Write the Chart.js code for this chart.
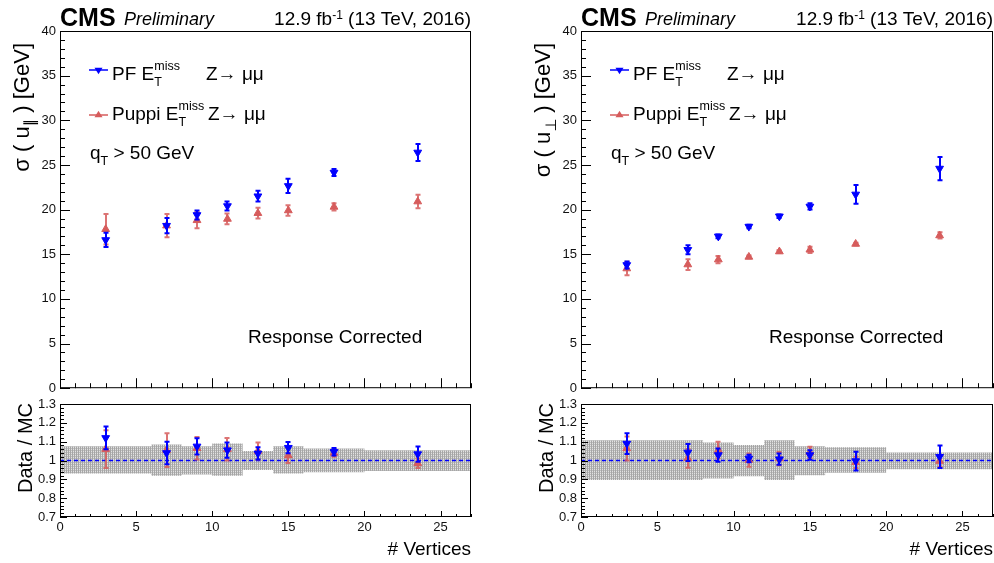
<!DOCTYPE html>
<html>
<head>
<meta charset="utf-8">
<script src="https://cdn.jsdelivr.net/npm/chart.js@4.4.1/dist/chart.umd.min.js"></script>
<style>
  body { margin: 0; background: #fff; width: 994px; height: 563px; overflow: hidden; position: relative; }
  canvas { position: absolute; }
</style>
</head>
<body>
<canvas id="mainL" width="497" height="400" style="left:0px;top:0px"></canvas>
<canvas id="ratioL" width="497" height="171" style="left:0px;top:392px"></canvas>
<canvas id="mainR" width="473" height="400" style="left:521px;top:0px"></canvas>
<canvas id="ratioR" width="473" height="171" style="left:521px;top:392px"></canvas>
<script>
// number of vertices (bin centres) and MC bins for the uncertainty band
const nVtx = [3, 7, 9, 11, 13, 15, 18, 23.5];
const binEdges = [0, 6, 8, 10, 12, 14, 16, 20, 27];

// sigma(u_par)
const parPF = [16.6, 18.2, 19.4, 20.4, 21.5, 22.65, 24.15, 26.4];
const parPFErr = [0.8, 0.85, 0.5, 0.5, 0.6, 0.8, 0.4, 0.95];
const parPuppi = [17.8, 18.2, 18.8, 18.95, 19.6, 19.9, 20.3, 20.9];
const parPuppiErr = [1.7, 1.3, 0.9, 0.6, 0.6, 0.6, 0.4, 0.75];
const parRatioPF = [1.12, 1.04, 1.075, 1.055, 1.038, 1.068, 1.046, 1.034];
const parRatioPFErr = [0.06, 0.06, 0.043, 0.04, 0.033, 0.03, 0.02, 0.04];
const parRatioPuppi = [1.06, 1.055, 1.065, 1.06, 1.05, 1.027, 1.04, 0.985];
const parRatioPuppiErr = [0.1, 0.09, 0.06, 0.06, 0.045, 0.04, 0.02, 0.025];
const parBandUp = [1.076, 1.085, 1.076, 1.09, 1.05, 1.076, 1.064, 1.055];
const parBandLo = [0.931, 0.919, 0.926, 0.919, 0.949, 0.931, 0.937, 0.944];

// sigma(u_perp)
const perpPF = [13.8, 15.5, 17.0, 18.1, 19.25, 20.35, 21.7, 24.6];
const perpPFErr = [0.4, 0.5, 0.2, 0.2, 0.2, 0.35, 1.05, 1.3];
const perpPuppi = [13.4, 13.85, 14.4, 14.7, 15.3, 15.5, 16.15, 17.1];
const perpPuppiErr = [0.75, 0.6, 0.4, 0.15, 0.15, 0.35, 0.15, 0.35];
const perpRatioPF = [1.09, 1.043, 1.029, 1.011, 1.007, 1.029, 0.997, 1.02];
const perpRatioPFErr = [0.055, 0.045, 0.035, 0.02, 0.03, 0.025, 0.05, 0.06];
const perpRatioPuppi = [1.064, 1.011, 1.055, 1.002, 1.01, 1.043, 0.99, 0.997];
const perpRatioPuppiErr = [0.064, 0.05, 0.045, 0.035, 0.035, 0.03, 0.03, 0.03];
const perpBandUp = [1.108, 1.108, 1.096, 1.082, 1.108, 1.076, 1.07, 1.043];
const perpBandLo = [0.896, 0.896, 0.905, 0.917, 0.896, 0.922, 0.935, 0.954];

// tick labels
const mainYTicks = [0, 5, 10, 15, 20, 25, 30, 35, 40];
const ratioYTicks = [0.7, 0.8, 0.9, 1, 1.1, 1.2, 1.3];
const xTicks = [0, 5, 10, 15, 20, 25];

const FONT = '"Liberation Sans", Arial, "DejaVu Sans", sans-serif';
const BLUE = '#0000ff';
const RED = 'rgb(214,92,92)';
const RED_ERR = 'rgba(214,92,92,0.85)';

function pts(xs, ys) { return xs.map((x, i) => ({ x: x, y: ys[i] })); }
function bandPts(edges, vals) {
  const out = [];
  vals.forEach((v, i) => { out.push({ x: edges[i], y: v }, { x: edges[i + 1], y: v }); });
  return out;
}

function hatch(canvas) {
  const t = document.createElement('canvas');
  t.width = 2; t.height = 2;
  const c = t.getContext('2d');
  c.fillStyle = '#e2e2e2'; c.fillRect(0, 0, 2, 2);
  c.fillStyle = '#a6a6a6'; c.fillRect(0, 0, 1, 2);
  c.fillStyle = '#bdbdbd'; c.fillRect(1, 0, 1, 1);
  return canvas.getContext('2d').createPattern(t, 'repeat');
}

// text with sub/superscripts; returns width
function rich(ctx, x, y, parts, draw = true) {
  let cx = x, held = 0;
  parts.forEach(p => {
    ctx.font = (p.st || '') + ' ' + p.s + 'px ' + FONT;
    const w = ctx.measureText(p.t).width;
    if (draw) ctx.fillText(p.t, cx, y + (p.dy || 0));
    if (p.hold) { held = Math.max(held, w); }
    else { cx += Math.max(w, held); held = 0; }
  });
  return cx - x;
}

const errorBars = {
  id: 'errorBars',
  beforeDatasetDraw(chart, args) {
    const ds = chart.data.datasets[args.index];
    if (!ds.err) return;
    const ctx = chart.ctx, xs = chart.scales.x, ys = chart.scales.y;
    ctx.save();
    ctx.strokeStyle = ds.errColor;
    ctx.lineWidth = 2;
    ctx.beginPath();
    ds.data.forEach((p, i) => {
      const px = Math.round(xs.getPixelForValue(p.x));
      const y1 = ys.getPixelForValue(p.y + ds.err[i]);
      const y2 = ys.getPixelForValue(p.y - ds.err[i]);
      ctx.moveTo(px, y1); ctx.lineTo(px, y2);
      ctx.moveTo(px - 2.5, y1); ctx.lineTo(px + 2.5, y1);
      ctx.moveTo(px - 2.5, y2); ctx.lineTo(px + 2.5, y2);
    });
    ctx.stroke();
    ctx.restore();
  }
};

function framePlugin(cfg) {
  return {
    id: 'frame',
    afterDatasetsDraw(chart) {
      const ctx = chart.ctx, a = chart.chartArea;
      ctx.save();
      ctx.strokeStyle = '#000';
      ctx.lineWidth = 1;
      ctx.strokeRect(a.left + 0.5, a.top + 0.5, a.right - a.left - 1, a.bottom - a.top - 1);
      ctx.beginPath();
      ['x', 'y'].forEach(k => {
        const sc = chart.scales[k], c = cfg[k];
        const n = Math.round((sc.max - sc.min) / c.minor);
        for (let j = 0; j <= n; j++) {
          const v = sc.min + j * c.minor;
          const r = v / c.major;
          const len = Math.abs(r - Math.round(r)) < 1e-6 ? c.len[0] : c.len[1];
          const p = Math.round(sc.getPixelForValue(v)) + 0.5;
          if (k === 'x') { ctx.moveTo(p, a.bottom); ctx.lineTo(p, a.bottom - len); }
          else { ctx.moveTo(a.left, p); ctx.lineTo(a.left + len, p); }
        }
      });
      ctx.stroke();
      ctx.restore();
    }
  };
}

function legendMark(ctx, x0, x1, y, color, down) {
  ctx.save();
  ctx.strokeStyle = color; ctx.fillStyle = color; ctx.lineWidth = 1.5;
  ctx.beginPath(); ctx.moveTo(x0, y); ctx.lineTo(x1, y); ctx.stroke();
  const xc = (x0 + x1) / 2, h = 3.8, s = down ? 1 : -1;
  ctx.beginPath();
  ctx.moveTo(xc - 4, y - s * h * 0.6);
  ctx.lineTo(xc + 4, y - s * h * 0.6);
  ctx.lineTo(xc, y + s * h * 1.1);
  ctx.closePath(); ctx.fill();
  ctx.restore();
}

function mainTexts(symbol) {
  return {
    id: 'mainText',
    afterDraw(chart) {
      const ctx = chart.ctx, a = chart.chartArea, L = a.left;
      const sub = (t) => ({ t: t, s: 12.5, dy: 6, hold: true });
      ctx.save();
      ctx.fillStyle = '#000';
      ctx.textAlign = 'left';
      ctx.textBaseline = 'alphabetic';
      rich(ctx, L, 26, [{ t: 'CMS', s: 25, st: 'bold' }]);
      rich(ctx, L + 64, 25, [{ t: 'Preliminary', s: 18, st: 'italic' }]);
      const lumi = [{ t: '12.9 fb', s: 19 }, { t: '-1', s: 12, dy: -6 }, { t: ' (13 TeV, 2016)', s: 19 }];
      rich(ctx, a.right - rich(ctx, 0, 0, lumi, false), 25, lumi);

      legendMark(ctx, L + 29, L + 48, 70, BLUE, true);
      rich(ctx, L + 52, 80, [{ t: 'PF E', s: 19 }, sub('T'), { t: 'miss', s: 12.5, dy: -10 }]);
      rich(ctx, L + 146, 80, [{ t: 'Z\u2192 \u03bc\u03bc', s: 19 }]);
      legendMark(ctx, L + 29, L + 48, 115, RED, false);
      rich(ctx, L + 52, 120, [{ t: 'Puppi E', s: 19 }, sub('T'), { t: 'miss', s: 12.5, dy: -10 }]);
      rich(ctx, L + 148, 120, [{ t: 'Z\u2192 \u03bc\u03bc', s: 19 }]);
      rich(ctx, L + 30, 159, [{ t: 'q', s: 19 }, { t: 'T', s: 12.5, dy: 6 }, { t: ' > 50 GeV', s: 19 }]);
      rich(ctx, L + 188, 343, [{ t: 'Response Corrected', s: 19 }]);

      const title = [{ t: '\u03c3 ( u', s: 22 }, { t: symbol, s: 15, dy: 6 }, { t: ' ) [GeV]', s: 22 }];
      const w = rich(ctx, 0, 0, title, false);
      ctx.translate(L - 31, 43 + w);
      ctx.rotate(-Math.PI / 2);
      rich(ctx, 0, 0, title);
      ctx.restore();
    }
  };
}

const ratioTexts = {
  id: 'ratioText',
  afterDraw(chart) {
    const ctx = chart.ctx, a = chart.chartArea;
    ctx.save();
    ctx.fillStyle = '#000';
    const t = [{ t: 'Data / MC', s: 20 }];
    const w = rich(ctx, 0, 0, t, false);
    ctx.save();
    ctx.translate(a.left - 28, 11 + w);
    ctx.rotate(-Math.PI / 2);
    rich(ctx, 0, 0, t);
    ctx.restore();
    const v = [{ t: '# Vertices', s: 19 }];
    rich(ctx, a.right - rich(ctx, 0, 0, v, false), 163, v);
    ctx.restore();
  }
};

const tickFont = { family: FONT, size: 13 };

function yAxis(min, max, labels) {
  return {
    type: 'linear', min: min, max: max,
    grid: { display: false, drawTicks: false, tickLength: 0 },
    border: { display: false },
    afterFit(s) { s.width = 60; },
    afterBuildTicks(s) { s.ticks = labels.map(v => ({ value: v })); },
    ticks: { padding: 4, color: '#111', font: tickFont, autoSkip: false, callback: v => String(v) }
  };
}

function pointSet(label, xs, ys, errs, down, color, errColor, order) {
  return {
    label: label, data: pts(xs, ys), err: errs, errColor: errColor,
    pointStyle: 'triangle', rotation: down ? 180 : 0, pointRadius: 4.5,
    backgroundColor: color, borderColor: color, borderWidth: 1, order: order
  };
}

function mainChart(id, plotW, pf, pfErr, pu, puErr, symbol) {
  const cv = document.getElementById(id);
  new Chart(cv, {
    type: 'scatter',
    data: {
      datasets: [
        pointSet('PF', nVtx, pf, pfErr, true, BLUE, BLUE, 1),
        pointSet('Puppi', nVtx, pu, puErr, false, RED, RED_ERR, 2)
      ]
    },
    options: {
      responsive: false, animation: false, devicePixelRatio: 1, events: [],
      layout: { autoPadding: false, padding: { left: 0, right: cv.width - 60 - plotW, top: 31, bottom: 10 } },
      plugins: { legend: { display: false }, tooltip: { enabled: false } },
      scales: {
        x: { type: 'linear', min: 0, max: 27, display: false },
        y: yAxis(0, 40, mainYTicks)
      }
    },
    plugins: [errorBars, framePlugin({ x: { major: 5, minor: 1, len: [10, 5] }, y: { major: 5, minor: 1, len: [10, 5] } }), mainTexts(symbol)]
  });
}

function ratioChart(id, plotW, pf, pfErr, pu, puErr, up, lo) {
  const cv = document.getElementById(id);
  new Chart(cv, {
    type: 'scatter',
    data: {
      datasets: [
        pointSet('PF', nVtx, pf, pfErr, true, BLUE, BLUE, 1),
        pointSet('Puppi', nVtx, pu, puErr, false, RED, RED_ERR, 2),
        { type: 'line', data: [{ x: 0, y: 1 }, { x: 27, y: 1 }], showLine: true, borderColor: BLUE,
          borderWidth: 1.5, borderDash: [4, 3], pointRadius: 0, fill: false, order: 5 },
        { type: 'line', data: bandPts(binEdges, up), showLine: true, borderColor: 'rgba(0,0,0,0)',
          borderWidth: 0, pointRadius: 0, tension: 0, fill: '+1', backgroundColor: hatch(cv), order: 10 },
        { type: 'line', data: bandPts(binEdges, lo), showLine: true, borderColor: 'rgba(0,0,0,0)',
          borderWidth: 0, pointRadius: 0, tension: 0, fill: false, order: 10 }
      ]
    },
    options: {
      responsive: false, animation: false, devicePixelRatio: 1, events: [],
      layout: { autoPadding: false, padding: { left: 0, right: cv.width - 60 - plotW, top: 12, bottom: 0 } },
      plugins: { legend: { display: false }, tooltip: { enabled: false } },
      scales: {
        x: {
          type: 'linear', min: 0, max: 27,
          grid: { display: false, drawTicks: false, tickLength: 0 },
          border: { display: false },
          afterFit(s) { s.height = 46; },
          afterBuildTicks(s) { s.ticks = xTicks.map(v => ({ value: v })); },
          ticks: { padding: 3, color: '#111', font: tickFont, autoSkip: false, maxRotation: 0, callback: v => String(v) }
        },
        y: yAxis(0.7, 1.3, ratioYTicks)
      }
    },
    plugins: [errorBars, framePlugin({ x: { major: 5, minor: 1, len: [6, 3] }, y: { major: 0.1, minor: 0.02, len: [7, 4] } }), ratioTexts]
  });
}

mainChart('mainL', 411, parPF, parPFErr, parPuppi, parPuppiErr, '\u2225');
ratioChart('ratioL', 411, parRatioPF, parRatioPFErr, parRatioPuppi, parRatioPuppiErr, parBandUp, parBandLo);
mainChart('mainR', 412, perpPF, perpPFErr, perpPuppi, perpPuppiErr, '\u22a5');
ratioChart('ratioR', 412, perpRatioPF, perpRatioPFErr, perpRatioPuppi, perpRatioPuppiErr, perpBandUp, perpBandLo);
</script>
</body>
</html>
